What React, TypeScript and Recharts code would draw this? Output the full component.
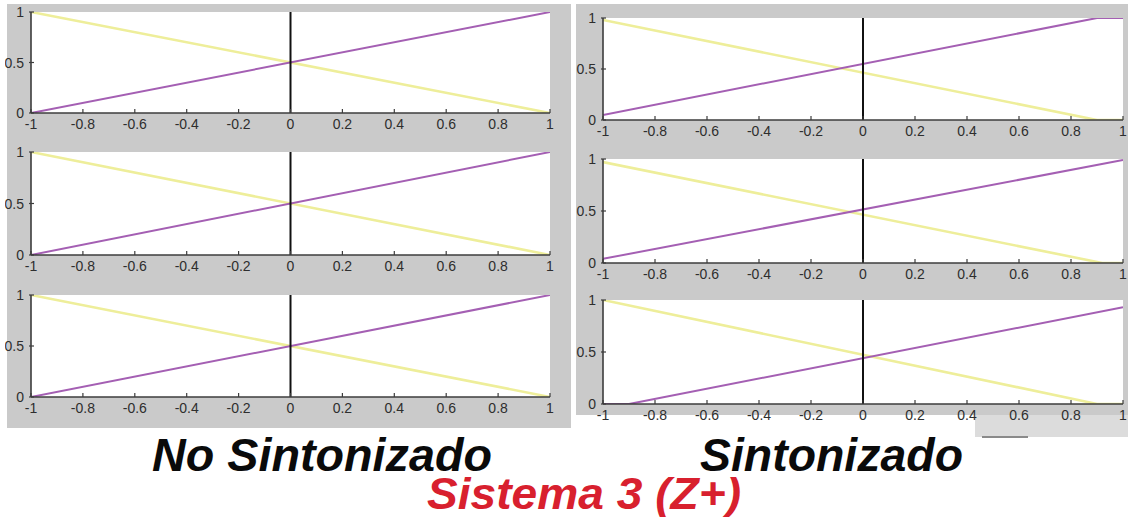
import React from 'react';
import { LineChart, Line, XAxis, YAxis, ReferenceLine, ReferenceArea } from 'recharts';

// Axis ticks (MATLAB-style membership plots on [-1, 1] x [0, 1])
const xTickValues = [-1, -0.8, -0.6, -0.4, -0.2, 0, 0.2, 0.4, 0.6, 0.8, 1];
const xTickLabels = ['-1', '-0.8', '-0.6', '-0.4', '-0.2', '0', '0.2', '0.4', '0.6', '0.8', '1'];
const yTickValues = [0, 0.5, 1];
const yTickLabels = ['0', '0.5', '1'];

type Pt = { x: number; y: number };

// "No Sintonizado" – three inputs, membership functions before tuning
const noSint1Yellow: Pt[] = [{ x: -1, y: 1 }, { x: 1, y: 0 }];
const noSint1Purple: Pt[] = [{ x: -1, y: 0 }, { x: 1, y: 1 }];
const noSint2Yellow: Pt[] = [{ x: -1, y: 1 }, { x: 1, y: 0 }];
const noSint2Purple: Pt[] = [{ x: -1, y: 0 }, { x: 1, y: 1 }];
const noSint3Yellow: Pt[] = [{ x: -1, y: 1 }, { x: 1, y: 0 }];
const noSint3Purple: Pt[] = [{ x: -1, y: 0 }, { x: 1, y: 1 }];

// "Sintonizado" – the same inputs after tuning
const sint1Yellow: Pt[] = [{ x: -1, y: 0.98 }, { x: 0.9, y: 0 }, { x: 1, y: 0 }];
const sint1Purple: Pt[] = [{ x: -1, y: 0.05 }, { x: 0.9, y: 1 }, { x: 1, y: 1 }];
const sint2Yellow: Pt[] = [{ x: -1, y: 0.97 }, { x: 0.92, y: 0 }, { x: 1, y: 0 }];
const sint2Purple: Pt[] = [{ x: -1, y: 0.04 }, { x: 1, y: 0.99 }];
const sint3Yellow: Pt[] = [{ x: -1, y: 1 }, { x: 0.9, y: 0 }, { x: 1, y: 0 }];
const sint3Purple: Pt[] = [{ x: -1, y: 0 }, { x: -0.9, y: 0 }, { x: 1, y: 0.93 }];

const GRAY = '#cacaca';
const AXIS = '#3c3c3c';
const TICK_TEXT = '#2e2e2e';
const YELLOW = '#eeee9a';
const PURPLE = '#a45fb3';
const FONT = '"Liberation Sans", Arial, Helvetica, sans-serif';

const PAD_L = 40;
const PAD_T = 10;
const PAD_R = 10;
const PAD_B = 30;

type SubplotProps = {
  left: number;
  top: number;
  w: number;
  h: number;
  yellow: Pt[];
  purple: Pt[];
};

function Subplot({ left, top, w, h, yellow, purple }: SubplotProps) {
  const axisY = PAD_T + h;
  const axisX = PAD_L;

  const renderXTick = (p: any) => {
    const i = xTickValues.indexOf(p.payload.value);
    return (
      <g>
        <line x1={p.x} x2={p.x} y1={axisY} y2={axisY - 4} stroke={AXIS} strokeWidth={1.2} />
        <text
          x={p.x}
          y={axisY + 16}
          textAnchor="middle"
          fontSize={14}
          fontFamily={FONT}
          fill={TICK_TEXT}
        >
          {xTickLabels[i]}
        </text>
      </g>
    );
  };

  const renderYTick = (p: any) => {
    const i = yTickValues.indexOf(p.payload.value);
    return (
      <g>
        <line x1={axisX - 2} x2={axisX + 3} y1={p.y} y2={p.y} stroke={AXIS} strokeWidth={1.2} />
        <text
          x={axisX - 7}
          y={p.y + 5}
          textAnchor="end"
          fontSize={14}
          fontFamily={FONT}
          fill={TICK_TEXT}
        >
          {yTickLabels[i]}
        </text>
      </g>
    );
  };

  return (
    <div style={{ position: 'absolute', left: left - PAD_L, top: top - PAD_T }}>
      <LineChart
        width={w + PAD_L + PAD_R}
        height={h + PAD_T + PAD_B}
        margin={{ top: PAD_T, right: PAD_R, bottom: 0, left: 0 }}
      >
        <ReferenceArea x1={-1} x2={1} y1={0} y2={1} fill="#ffffff" fillOpacity={1} stroke="none" />
        <XAxis
          type="number"
          dataKey="x"
          domain={[-1, 1]}
          ticks={xTickValues}
          interval={0}
          allowDataOverflow
          height={PAD_B}
          tickLine={false}
          axisLine={{ stroke: AXIS, strokeWidth: 1.6 }}
          tick={renderXTick}
        />
        <YAxis
          type="number"
          dataKey="y"
          domain={[0, 1]}
          ticks={yTickValues}
          interval={0}
          allowDataOverflow
          width={PAD_L}
          tickLine={false}
          axisLine={{ stroke: AXIS, strokeWidth: 1.6 }}
          tick={renderYTick}
        />
        <Line
          data={yellow}
          dataKey="y"
          type="linear"
          stroke={YELLOW}
          strokeWidth={2.6}
          dot={false}
          activeDot={false}
          isAnimationActive={false}
        />
        <Line
          data={purple}
          dataKey="y"
          type="linear"
          stroke={PURPLE}
          strokeWidth={2}
          dot={false}
          activeDot={false}
          isAnimationActive={false}
        />
        <ReferenceLine x={0} stroke="#111111" strokeWidth={2} />
      </LineChart>
    </div>
  );
}

export default function App() {
  return (
    <div
      style={{
        position: 'fixed',
        left: 0,
        top: 0,
        width: 1128,
        height: 517,
        background: '#ffffff',
        overflow: 'hidden',
        fontFamily: FONT,
      }}
    >
      {/* figure backgrounds */}
      <div style={{ position: 'absolute', left: 7, top: 4, width: 564, height: 424, background: GRAY }} />
      <div style={{ position: 'absolute', left: 576, top: 4, width: 552, height: 411, background: GRAY }} />
      <div style={{ position: 'absolute', left: 975, top: 415, width: 153, height: 22, background: '#dcdcdc' }} />
      <div style={{ position: 'absolute', left: 982, top: 436, width: 46, height: 2, background: '#8a8a8a' }} />

      {/* No Sintonizado */}
      <Subplot left={31} top={12} w={519} h={101} yellow={noSint1Yellow} purple={noSint1Purple} />
      <Subplot left={31} top={152} w={519} h={103} yellow={noSint2Yellow} purple={noSint2Purple} />
      <Subplot left={31} top={295} w={519} h={102} yellow={noSint3Yellow} purple={noSint3Purple} />

      {/* Sintonizado */}
      <Subplot left={603} top={18} w={520} h={102} yellow={sint1Yellow} purple={sint1Purple} />
      <Subplot left={603} top={159} w={520} h={104} yellow={sint2Yellow} purple={sint2Purple} />
      <Subplot left={603} top={300} w={520} h={104} yellow={sint3Yellow} purple={sint3Purple} />

      {/* left margin strip of the figure */}
      <div style={{ position: 'absolute', left: 0, top: 0, width: 5, height: 517, background: '#ffffff' }} />

      {/* captions */}
      <svg
        width={1128}
        height={517}
        style={{ position: 'absolute', left: 0, top: 0, pointerEvents: 'none' }}
      >
        <text
          x={152}
          y={471}
          fontSize={46}
          fontWeight="bold"
          fontStyle="italic"
          fontFamily={FONT}
          fill="#0a0a0a"
          textLength={340}
          lengthAdjust="spacingAndGlyphs"
        >
          No Sintonizado
        </text>
        <text
          x={700}
          y={471}
          fontSize={46}
          fontWeight="bold"
          fontStyle="italic"
          fontFamily={FONT}
          fill="#0a0a0a"
          textLength={263}
          lengthAdjust="spacingAndGlyphs"
        >
          Sintonizado
        </text>
        <text
          x={427}
          y={509}
          fontSize={44}
          fontWeight="bold"
          fontStyle="italic"
          fontFamily={FONT}
          fill="#d8202e"
          textLength={314}
          lengthAdjust="spacingAndGlyphs"
        >
          Sistema 3 (Z+)
        </text>
      </svg>
    </div>
  );
}
